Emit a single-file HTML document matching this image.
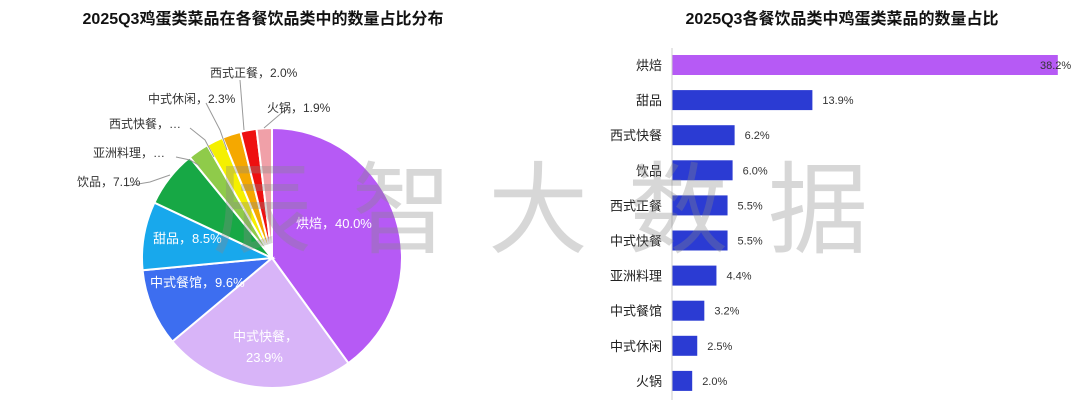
<!DOCTYPE html>
<html><head><meta charset="utf-8"><style>
body{margin:0;background:#fff;}
svg{display:block;font-family:"Liberation Sans","Noto Sans CJK SC",sans-serif;}
</style></head><body>
<svg id="s" width="1080" height="414" viewBox="0 0 1080 414">
<text x="263" y="24" text-anchor="middle" font-size="16" font-weight="bold" fill="#111">2025Q3鸡蛋类菜品在各餐饮品类中的数量占比分布</text>
<text x="842" y="24" text-anchor="middle" font-size="16" font-weight="bold" fill="#111">2025Q3各餐饮品类中鸡蛋类菜品的数量占比</text>
<g id="pie"></g>
<g stroke="#999" fill="none" stroke-width="1">
<polyline points="126,186 150,182 170,175"/>
<polyline points="176,157 190,160 200,166"/>
<polyline points="190,128 205,140 214,157"/>
<polyline points="206,103 220,130 227,150"/>
<polyline points="240,80 244,130"/>
<polyline points="285,110 264,128"/>
</g>
<g font-size="12" fill="#333">
<text x="77" y="186">饮品，7.1%</text>
<text x="93" y="157">亚洲料理，…</text>
<text x="109" y="128">西式快餐，…</text>
<text x="148" y="103">中式休闲，2.3%</text>
<text x="210" y="77">西式正餐，2.0%</text>
<text x="267" y="112">火锅，1.9%</text>
</g>
<g font-size="13" fill="#fff">
<text x="296" y="228">烘焙，40.0%</text>
<text x="233" y="341">中式快餐，</text>
<text x="246" y="362">23.9%</text>
<text x="150" y="287">中式餐馆，9.6%</text>
<text x="153" y="243">甜品，8.5%</text>
</g>
<g id="bars"></g>
<line x1="672" y1="48" x2="672" y2="400" stroke="#ccc"/>
<g font-size="100" fill="#888" opacity="0.33" font-family="'Noto Sans CJK SC',sans-serif">
<text x="212" y="245">辰</text><text x="352" y="245">智</text><text x="488" y="245">大</text><text x="628" y="245">数</text><text x="768" y="245">据</text>
</g>
</svg>
<script>
var d=[40,23.9,9.6,8.5,7.1,2.6,2.1,2.3,2.0,1.9];
var c=["#B65AF5","#D8B4F8","#3D6EF0","#18A8EC","#17A845","#8FCB4A","#F5F000","#F5A800","#EE1010","#F0A0A8"];
var cx=272,cy=258,r=130,a=-Math.PI/2,h="";
d.forEach(function(v,i){var b=a+v/100*2*Math.PI;
var x1=cx+r*Math.cos(a),y1=cy+r*Math.sin(a),x2=cx+r*Math.cos(b),y2=cy+r*Math.sin(b);
h+='<path d="M'+cx+','+cy+'L'+x1+','+y1+'A'+r+','+r+' 0 '+(v>50?1:0)+' 1 '+x2+','+y2+'Z" fill="'+c[i]+'" stroke="#fff" stroke-width="2"/>';a=b;});
document.getElementById('pie').innerHTML=h;
var n=["烘焙","甜品","西式快餐","饮品","西式正餐","中式快餐","亚洲料理","中式餐馆","中式休闲","火锅"];
var v=[38.2,13.9,6.2,6.0,5.5,5.5,4.4,3.2,2.5,2.0];
var s="";
n.forEach(function(t,i){var y=65+i*35.1,w=v[i]*10.1;
s+='<rect x="672" y="'+(y-10)+'" width="'+w+'" height="20" fill="'+(i?'#2B3BD3':'#B65AF5')+'"/>';
s+='<text x="662" y="'+(y+5)+'" text-anchor="end" font-size="13" fill="#222">'+t+'</text>';
if(i)s+='<text x="'+(672+w+10)+'" y="'+(y+4)+'" font-size="11" fill="#333">'+v[i].toFixed(1)+'%</text>';
else s+='<text x="1040" y="'+(y+4)+'" font-size="11" fill="#333">38.2%</text>';});
document.getElementById('bars').innerHTML=s;
</script>
</body></html>
